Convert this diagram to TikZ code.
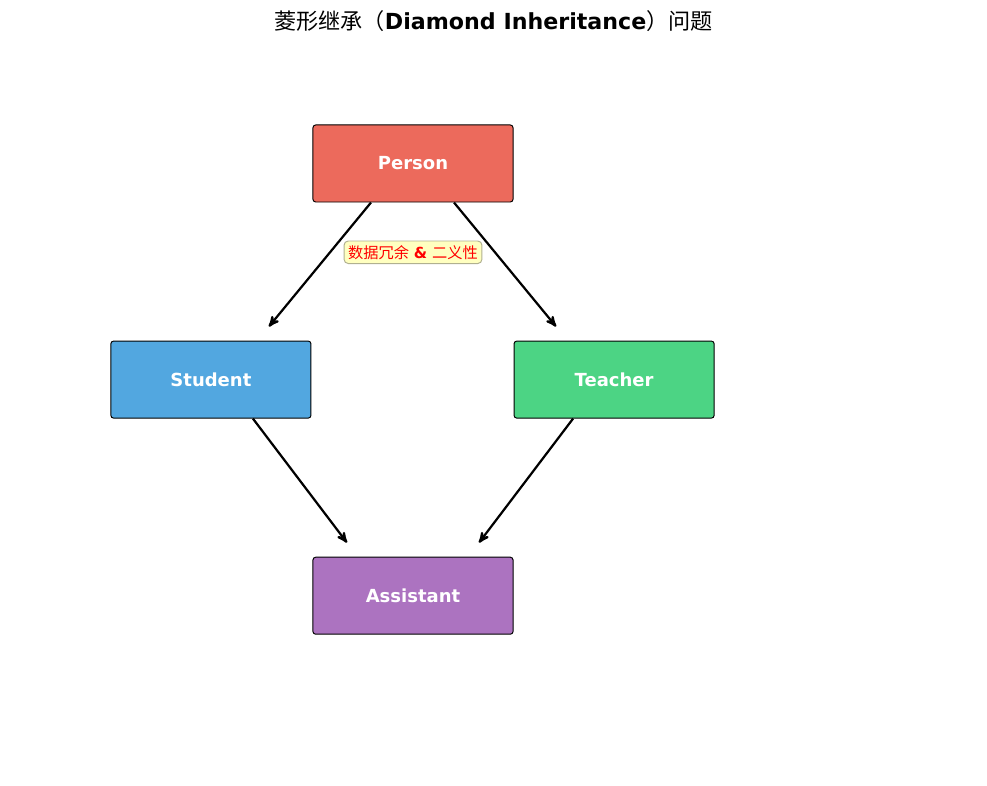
\documentclass[tikz,border=0pt]{standalone}
\usepackage{fontspec}
\setmainfont{DejaVu Sans}
\newfontfamily\cjk{Noto Sans CJK SC}
\usetikzlibrary{arrows,positioning,calc}

\definecolor{personred}{HTML}{EC6A5C}
\definecolor{studentblue}{HTML}{52A7E0}
\definecolor{teachergreen}{HTML}{4CD484}
\definecolor{assistantpurple}{HTML}{AC73C0}
\definecolor{notefill}{HTML}{FFFFC0}
\definecolor{noteedge}{HTML}{B0B090}

\begin{document}
\begin{tikzpicture}[x=0.01in,y=0.01in,->,>=stealth',line width=1.6pt,
  class node/.style={rectangle,rounded corners=2pt,draw=black,line width=0.7pt,
    minimum width=2in,minimum height=0.77in,inner sep=0pt,
    text=white,font=\fontsize{13}{15}\selectfont\bfseries},
  note node/.style={rectangle,rounded corners=3pt,draw=noteedge,fill=notefill,
    line width=0.7pt,inner sep=3pt,text=red,font=\fontsize{11}{13}\selectfont}]

  \useasboundingbox (0,0) rectangle (987,786);

  \node[font=\fontsize{16}{19}\selectfont] (title) at (493.5,765)
    {{\cjk 菱形继承（}\textbf{Diamond Inheritance}{\cjk ）问题}};

  \node[class node,fill=personred] (person) at (413,622.5) {Person};
  \node[class node,fill=studentblue] (student) [below left=1.38in and 0.01in of person] {Student};
  \node[class node,fill=teachergreen] (teacher) [below right=1.38in and 0in of person] {Teacher};
  \node[class node,fill=assistantpurple] (assistant) [below=3.54in of person] {Assistant};

  \node[note node] (note) [below=0.38in of person]
    {{\cjk 数据冗余} \textbf{\&} {\cjk 二义性}};

  \path ($(person.south)+(-42,0)$) edge ($(student.north)+(58,14)$)
        ($(person.south)+(41,0)$) edge ($(teacher.north)+(-58,14)$)
        ($(student.south)+(42,0)$) edge ($(assistant.north)+(-66,14)$)
        ($(teacher.south)+(-41,0)$) edge ($(assistant.north)+(66,14)$);

\end{tikzpicture}
\end{document}
